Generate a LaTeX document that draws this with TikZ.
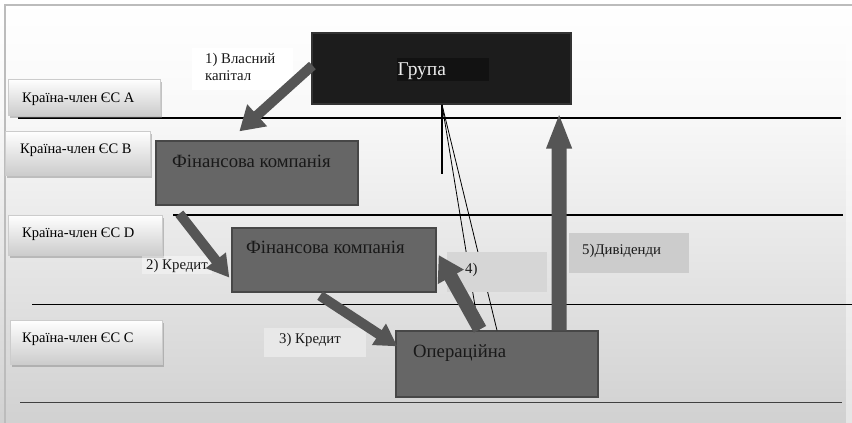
\documentclass[tikz,border=0pt]{standalone}
\usepackage{fontspec}
\setmainfont{Liberation Serif}
\usetikzlibrary{arrows.meta,shadows,calc}
\definecolor{boxgray}{HTML}{666666}
\definecolor{arrowgray}{HTML}{555555}
\definecolor{groupfill}{HTML}{1C1C1C}
\definecolor{groupinner}{HTML}{121212}
\definecolor{framegray}{HTML}{BCBCBC}

\begin{document}
\begin{tikzpicture}[x=1pt,y=-1pt,
  country/.style={rectangle, draw=gray!40, top color=white, bottom color=gray!40,
    drop shadow={shadow xshift=2pt, shadow yshift=-2.5pt, opacity=.45, fill=gray},
    inner sep=0pt},
  ctext/.style={anchor=base west, inner sep=0pt, font=\fontsize{14.5}{16}\selectfont},
  company/.style={rectangle, draw=black!72, line width=1.3pt, fill=boxgray, inner sep=0pt},
  bigtext/.style={anchor=base west, inner sep=0pt, text=black!90, font=\fontsize{18.7}{20}\selectfont},
  smalltext/.style={anchor=base west, inner sep=0pt, text=black!90, font=\fontsize{14.8}{16}\selectfont},
  tag/.style={rectangle, draw=none, inner sep=0pt},
  rule/.style={line width=1.6pt},
  thinrule/.style={line width=1pt},
  flow/.style={draw=arrowgray, line width=#1, line cap=butt},
  link/.style={line width=0.8pt, black},
]
\useasboundingbox (0,0) rectangle (852,423);

% background with soft vertical gradient and frame
\shade[top color=white, bottom color=gray!5] (0,0) rectangle (852,110);
\shade[top color=gray!5, bottom color=gray!36] (0,110) rectangle (852,423);
\fill[white, opacity=.45] (846,6) rectangle (852,423);
\draw[framegray, line width=2pt] (5,423) -- (5,4.5) -- (852,4.5);

% country bands
\draw[rule] (18,118) -- (841,118);
\draw[rule] (173,215) -- (843,215);
\draw[thinrule] (32,304) -- (852,304);
\draw[thinrule, black!75] (20,402) -- (842,402);

% country labels
\node[country, minimum width=152pt, minimum height=36pt] (ctryA) at (84,97) {};
\node[ctext] (ctryAt) at (22,102) {Країна-член ЄС А};
\node[country, minimum width=145pt, minimum height=44pt] (ctryB) at (77.5,153) {};
\node[ctext] (ctryBt) at (20,153) {Країна-член ЄС В};
\node[country, minimum width=154pt, minimum height=40pt] (ctryD) at (85,235) {};
\node[ctext] (ctryDt) at (22,237) {Країна-член ЄС D};
\node[country, minimum width=152pt, minimum height=44pt] (ctryC) at (86,342) {};
\node[ctext] (ctryCt) at (22,342) {Країна-член ЄС С};

% entities
\node[rectangle, draw=black!80, line width=1.2pt, fill=groupfill, inner sep=0pt,
      minimum width=259pt, minimum height=71pt] (grp) at (441.5,68.5) {};
\node[rectangle, fill=groupinner, inner sep=0pt, minimum width=92pt, minimum height=23pt]
      (grpin) at (443,69.5) {};
\node[anchor=base west, inner sep=0pt, text=white!92!black, font=\fontsize{19.5}{21}\selectfont]
      (grpt) at (397.5,75) {Група};

\node[company, minimum width=202pt, minimum height=64pt] (fk1) at (257,173) {};
\node[bigtext] (fk1t) at (172,167) {Фінансова компанія};
\node[company, minimum width=204pt, minimum height=64pt] (fk2) at (334,260) {};
\node[bigtext] (fk2t) at (246,253) {Фінансова компанія};
\node[company, minimum width=202pt, minimum height=66pt] (op) at (497,364) {};
\node[bigtext] (opt) at (413,357) {Операційна};

% links from the group down to the operating company
\draw[line width=1.6pt] (grp.south) ++(0.5,0) coordinate (gs) -- ++(0,69) coordinate (gsend);
\draw[link] (gs) -- ($(op.north)+(-18,0)$);
\draw[link] (gs) -- (op.north);

% flow labels
\node[tag, fill=white, minimum width=101pt, minimum height=42pt] (lab1) at (242.5,69) {};
\node[smalltext] (lab1a) at (205,63) {1) Власний};
\node[smalltext] (lab1b) at (205,80) {капітал};
\node[tag, fill=white, opacity=.4, minimum width=70pt, minimum height=18pt] (lab2) at (177,265) {};
\node[smalltext] (lab2t) at (146,269) {2) Кредит};
\node[tag, fill=gray!18, minimum width=102pt, minimum height=29pt] (lab3) at (315,342.5) {};
\node[smalltext] (lab3t) at (279,343) {3) Кредит};
\node[tag, fill=gray!32, minimum width=100pt, minimum height=40pt] (lab4) at (497,272) {};
\node[smalltext] (lab4t) at (465,273) {4)};
\node[tag, fill=gray!40, minimum width=120pt, minimum height=40pt] (lab5) at (629,253) {};
\node[smalltext] (lab5t) at (582,254) {5)Дивіденди};

% money flows
\draw[flow=10pt, -{Triangle[length=24pt, width=28pt]}]
  ($(grp.west)+(1,-3)$) -- ($(fk1.north west)+(84,-9)$);
\draw[flow=10pt, -{Triangle[length=22pt, width=24pt]}]
  ($(fk1.south west)+(24,8)$) -- ($(fk2.south west)+(-2,-15)$);
\draw[flow=10pt, -{Triangle[length=22pt, width=24pt]}]
  ($(fk2.south)+(-14,3)$) -- ($(op.north west)+(2,16)$);
\draw[flow=14pt, -{Triangle[length=25pt, width=28pt]}]
  ($(op.north)+(-17,-1)$) -- ($(fk2.east)+(2,-5)$);
\draw[flow=15pt, -{Triangle[length=36pt, width=23pt]}]
  ($(op.north east)+(-39.5,0)$) -- ($(grp.south east)+(-12.5,8)$);
\end{tikzpicture}
\end{document}
